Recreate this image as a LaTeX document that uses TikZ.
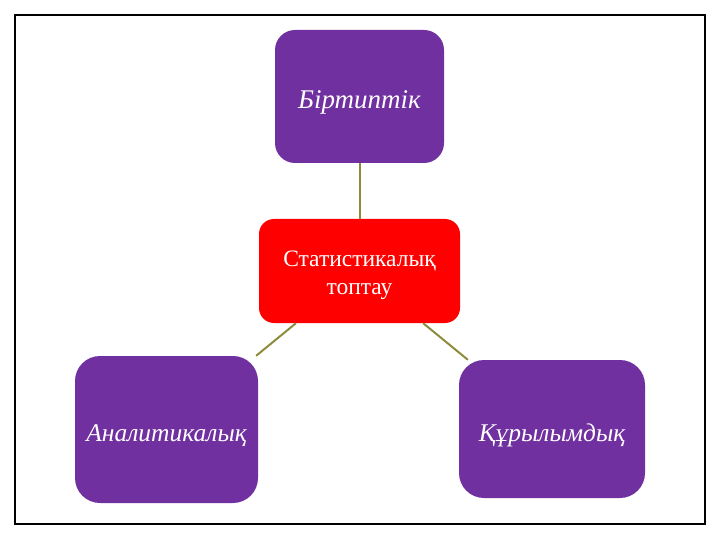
\documentclass[tikz,border=0pt]{standalone}
\usepackage{fontspec}
\setmainfont{Liberation Serif}
\definecolor{boxpurple}{RGB}{112,48,160}
\definecolor{boxred}{RGB}{255,0,0}
\definecolor{linkolive}{RGB}{140,140,60}
\tikzset{
  leaf/.style={fill=boxpurple, text=white, rounded corners=20pt, font=\fontsize{25.5}{30}\selectfont\itshape, inner sep=0pt, text height=27pt, text depth=3pt},
  root/.style={fill=boxred, text=white, rounded corners=15pt, align=center, font=\fontsize{23.5}{28}\selectfont, inner sep=0pt, text height=50pt, text depth=4pt},
  link/.style={draw=linkolive, line width=2pt}
}
\begin{document}
\begin{tikzpicture}[x=1pt, y=-1pt]
    \useasboundingbox (0,0) rectangle (720,540);
    \draw[line width=1.3pt] (15,15) rectangle (705,524);

    \node[root, minimum width=201pt, minimum height=104pt] (0) at (359.5, 271) {Статистикалық\\топтау};
    \node[leaf, minimum width=169pt, minimum height=133pt, font=\fontsize{27}{30}\selectfont\itshape] (1) at (359.5, 96.5) {Біртиптік};
    \node[leaf, minimum width=183pt, minimum height=147pt, rounded corners=25pt] (2) at (166.5, 429.5) {Аналитикалық};
    \node[leaf, minimum width=186pt, minimum height=138pt, rounded corners=25pt] (3) at (552, 429) {Құрылымдық};

    \draw[link] (0) -- (1);
    \draw[link] (0) -- (2);
    \draw[link] (0) -- (3);
\end{tikzpicture}
\end{document}
